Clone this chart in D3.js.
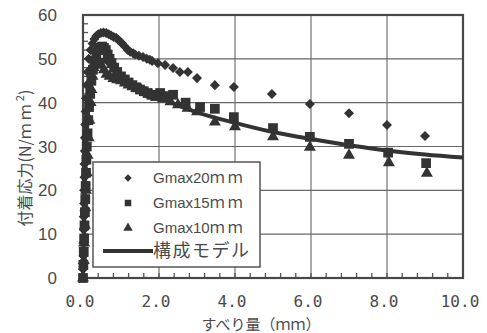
<!DOCTYPE html>
<html><head><meta charset="utf-8">
<script src="https://cdn.jsdelivr.net/npm/d3@7"></script>
<style>
html,body{margin:0;padding:0;background:#fff;}
svg{display:block;}
</style></head>
<body>
<svg id="chart" width="487" height="333"></svg>
<script>
// ---- data ----
const xTicks = [0, 2, 4, 6, 8, 10];
const xTickLabels = ["0.0", "2.0", "4.0", "6.0", "8.0", "10.0"];
const yTicks = [0, 10, 20, 30, 40, 50, 60];
const yTickLabels = ["0", "10", "20", "30", "40", "50", "60"];

const g20X = [0.00,0.01,0.01,0.02,0.02,0.03,0.03,0.04,0.04,0.05,0.05,0.06,0.07,0.08,0.10,0.12,0.15,0.20,0.25,0.30,0.35,0.40,0.47,0.54,0.61,0.68,0.74,0.81,0.87,0.92,0.97,1.03,1.10,1.18,1.24,1.32,1.37,1.47,1.58,1.68,1.76,1.82,1.97,2.16,2.37,2.55,2.76,3.00,3.47,3.97,4.97,5.97,7.00,8.00,9.00];
const g20Y = [2,5,8,11,14,17,20,23,26,29,32,35,38,41,44,47,50,52,53.5,54.5,55.2,55.6,55.9,56,55.9,55.6,55.3,55.0,54.8,54.4,54,53.5,52.8,52,51.6,51.3,51,50.7,50.4,50,49.8,49.5,49,48.6,47.9,47,47,45.6,44,43.6,42,39.7,37.6,34.9,32.4];

const g15X = [0,0.01,0.02,0.03,0.04,0.05,0.06,0.07,0.08,0.09,0.10,0.12,0.14,0.16,0.19,0.22,0.26,0.30,0.35,0.40,0.45,0.50,0.55,0.60,0.65,0.70,0.75,0.82,0.90,1.00,1.10,1.20,1.30,1.40,1.50,1.60,1.70,1.80,1.90,2.03,2.20,2.37,2.70,3.08,3.47,3.97,5.00,5.97,7.00,8.03,9.03];
const g15Y = [0,3,6,9,12,15,18,21,24,27,30,33,36,39,42,45,47.5,49.5,51,52,52.5,52.8,52.5,52,51,50,49,48,47,46,45.3,44.6,44,43.5,43,42.6,42.2,41.8,41.5,42.2,41.5,41.8,40,39,38.6,36.7,34.2,32.2,30.6,28.6,26.2];

const g10X = [0,0.02,0.03,0.05,0.06,0.08,0.10,0.12,0.15,0.17,0.20,0.22,0.25,0.28,0.32,0.37,0.42,0.48,0.55,0.62,0.70,0.80,0.90,1.00,1.10,1.20,1.30,1.40,1.53,1.65,1.80,1.95,2.10,2.30,2.50,2.75,3.00,3.47,4.00,5.00,5.97,7.00,8.05,9.05];
const g10Y = [0,4,8,12,16,20,24,28,32,36,40,43,46,48,49.5,50,49.5,48.5,47.5,46.5,46,45.5,45.2,45,44.5,44,43.6,43.2,42.9,42.3,41.8,41.3,40.8,40.2,39.5,38.7,37.9,35.6,34.5,32.2,29.8,28.0,26.3,23.9];

const modelX = [0,0.05,0.10,0.15,0.20,0.30,0.40,0.50,0.60,0.80,1.00,1.50,2.00,2.50,3.00,4.00,5.00,6.00,7.00,8.00,9.00,10.00];
const modelY = [0,22,33,40,44,48,49.5,49.8,49.3,47.8,46.2,43.5,41.2,39.4,37.8,35.4,33.3,31.7,30.3,29.1,28.2,27.5];

const legendLabels = ["Gmax20", "Gmax15", "Gmax10", "構成モデル"];

// ---- layout ----
const svg = d3.select("#chart");
const L = 83, R = 463, T = 15, B = 278;
const x = d3.scaleLinear().domain([0, 10]).range([L, R]);
const y = d3.scaleLinear().domain([0, 60]).range([B, T]);
const ink = "#333", txt = "#4a4a4a";

// grid
svg.append("g").selectAll("line").data(xTicks.slice(1, -1)).join("line")
  .attr("x1", d => x(d)).attr("x2", d => x(d)).attr("y1", T).attr("y2", B)
  .attr("stroke", "#666").attr("stroke-width", 1.1);
svg.append("g").selectAll("line").data(yTicks.slice(1, -1)).join("line")
  .attr("y1", d => y(d)).attr("y2", d => y(d)).attr("x1", L).attr("x2", R)
  .attr("stroke", "#666").attr("stroke-width", 1.1);

// minor ticks (inside)
const xMinor = d3.range(0, 10.001, 0.4);
svg.append("g").selectAll("line").data(xMinor).join("line")
  .attr("x1", d => x(d)).attr("x2", d => x(d)).attr("y1", B).attr("y2", B - 5)
  .attr("stroke", "#555").attr("stroke-width", 1.3);
const yMinor = d3.range(0, 60.001, 2);
svg.append("g").selectAll("line").data(yMinor).join("line")
  .attr("y1", d => y(d)).attr("y2", d => y(d)).attr("x1", L).attr("x2", L + 5)
  .attr("stroke", "#555").attr("stroke-width", 1.3);

// frame
svg.append("rect").attr("x", L).attr("y", T).attr("width", R - L).attr("height", B - T)
  .attr("fill", "none").attr("stroke", "#484848").attr("stroke-width", 2.2);

// axis labels
svg.append("g").selectAll("text").data(yTicks).join("text")
  .attr("x", 57).attr("y", d => y(d)).attr("dy", "0.36em")
  .attr("text-anchor", "end").attr("font-family", "Liberation Sans, Arial, sans-serif")
  .attr("font-size", 17).attr("fill", txt).text((d, i) => yTickLabels[i]);
svg.append("g").selectAll("text").data(xTicks).join("text")
  .attr("x", d => x(d) - 3).attr("y", 307)
  .attr("text-anchor", "middle").attr("font-family", "DejaVu Sans Mono, monospace")
  .attr("font-size", 16).attr("fill", txt).text((d, i) => xTickLabels[i]);

svg.append("text").attr("x", 261).attr("y", 329.5).attr("text-anchor", "middle")
  .attr("font-family", "Noto Sans CJK JP, sans-serif").attr("font-size", 15).attr("fill", txt)
  .text("すべり量（ｍｍ）");

const yt = svg.append("text").attr("transform", "translate(31,158) rotate(-90)")
  .attr("text-anchor", "middle").attr("font-family", "Noto Sans CJK JP, sans-serif")
  .attr("font-size", 16).attr("fill", txt);
yt.append("tspan").text("付着応力(N/");
yt.append("tspan").attr("letter-spacing", 3).text("ｍｍ");
yt.append("tspan").attr("dy", -7).attr("font-size", 11).text("2");
yt.append("tspan").attr("dy", 7).text(")");

// markers
const clip = svg.append("defs").append("clipPath").attr("id", "pc");
clip.append("rect").attr("x", L - 6).attr("y", T).attr("width", R - L + 6).attr("height", B - T + 6);
const plot = svg.append("g").attr("clip-path", "url(#pc)");

const diamond = d3.symbol().type(d3.symbolDiamond2).size(64);
const square = d3.symbol().type(d3.symbolSquare).size(95);
const tri = d3.symbol().type(d3.symbolTriangle).size(62);

function series(xs, ys, sym) {
  plot.append("g").selectAll("path").data(xs.map((v, i) => [v, ys[i]])).join("path")
    .attr("transform", d => `translate(${x(d[0])},${y(d[1])})`)
    .attr("d", sym).attr("fill", ink);
}
series(g20X, g20Y, diamond);
series(g15X, g15Y, square);
series(g10X, g10Y, tri);

const line = d3.line().x((d, i) => x(modelX[i])).y(d => y(d)).curve(d3.curveMonotoneX);
plot.append("path").attr("d", line(modelY)).attr("fill", "none")
  .attr("stroke", ink).attr("stroke-width", 4);

// legend
const lg = svg.append("g");
lg.append("rect").attr("x", 93).attr("y", 162).attr("width", 167).attr("height", 105)
  .attr("fill", "#fff").attr("stroke", "#555").attr("stroke-width", 1.5);
const rowsY = [178, 203, 228, 251];
const legSyms = [d3.symbol().type(d3.symbolDiamond2).size(36), d3.symbol().type(d3.symbolSquare).size(42), d3.symbol().type(d3.symbolTriangle).size(38)];
for (let i = 0; i < 3; i++) {
  lg.append("path").attr("transform", `translate(128,${rowsY[i]})`).attr("d", legSyms[i]).attr("fill", ink);
  const t = lg.append("text").attr("x", 153).attr("y", rowsY[i]).attr("dy", "0.36em")
    .attr("font-family", "Liberation Sans, Arial, sans-serif").attr("font-size", 15).attr("fill", txt);
  t.append("tspan").text(legendLabels[i]);
  t.append("tspan").attr("font-family", "Noto Sans CJK JP, sans-serif").attr("letter-spacing", 3).text("ｍｍ");
}
lg.append("line").attr("x1", 103).attr("x2", 153).attr("y1", rowsY[3]).attr("y2", rowsY[3])
  .attr("stroke", ink).attr("stroke-width", 4);
lg.append("text").attr("x", 153).attr("y", rowsY[3]).attr("dy", "0.36em")
  .attr("font-family", "Noto Sans CJK JP, sans-serif").attr("font-size", 18).attr("letter-spacing", 1.5)
  .attr("fill", txt).text(legendLabels[3]);
</script>
</body></html>
